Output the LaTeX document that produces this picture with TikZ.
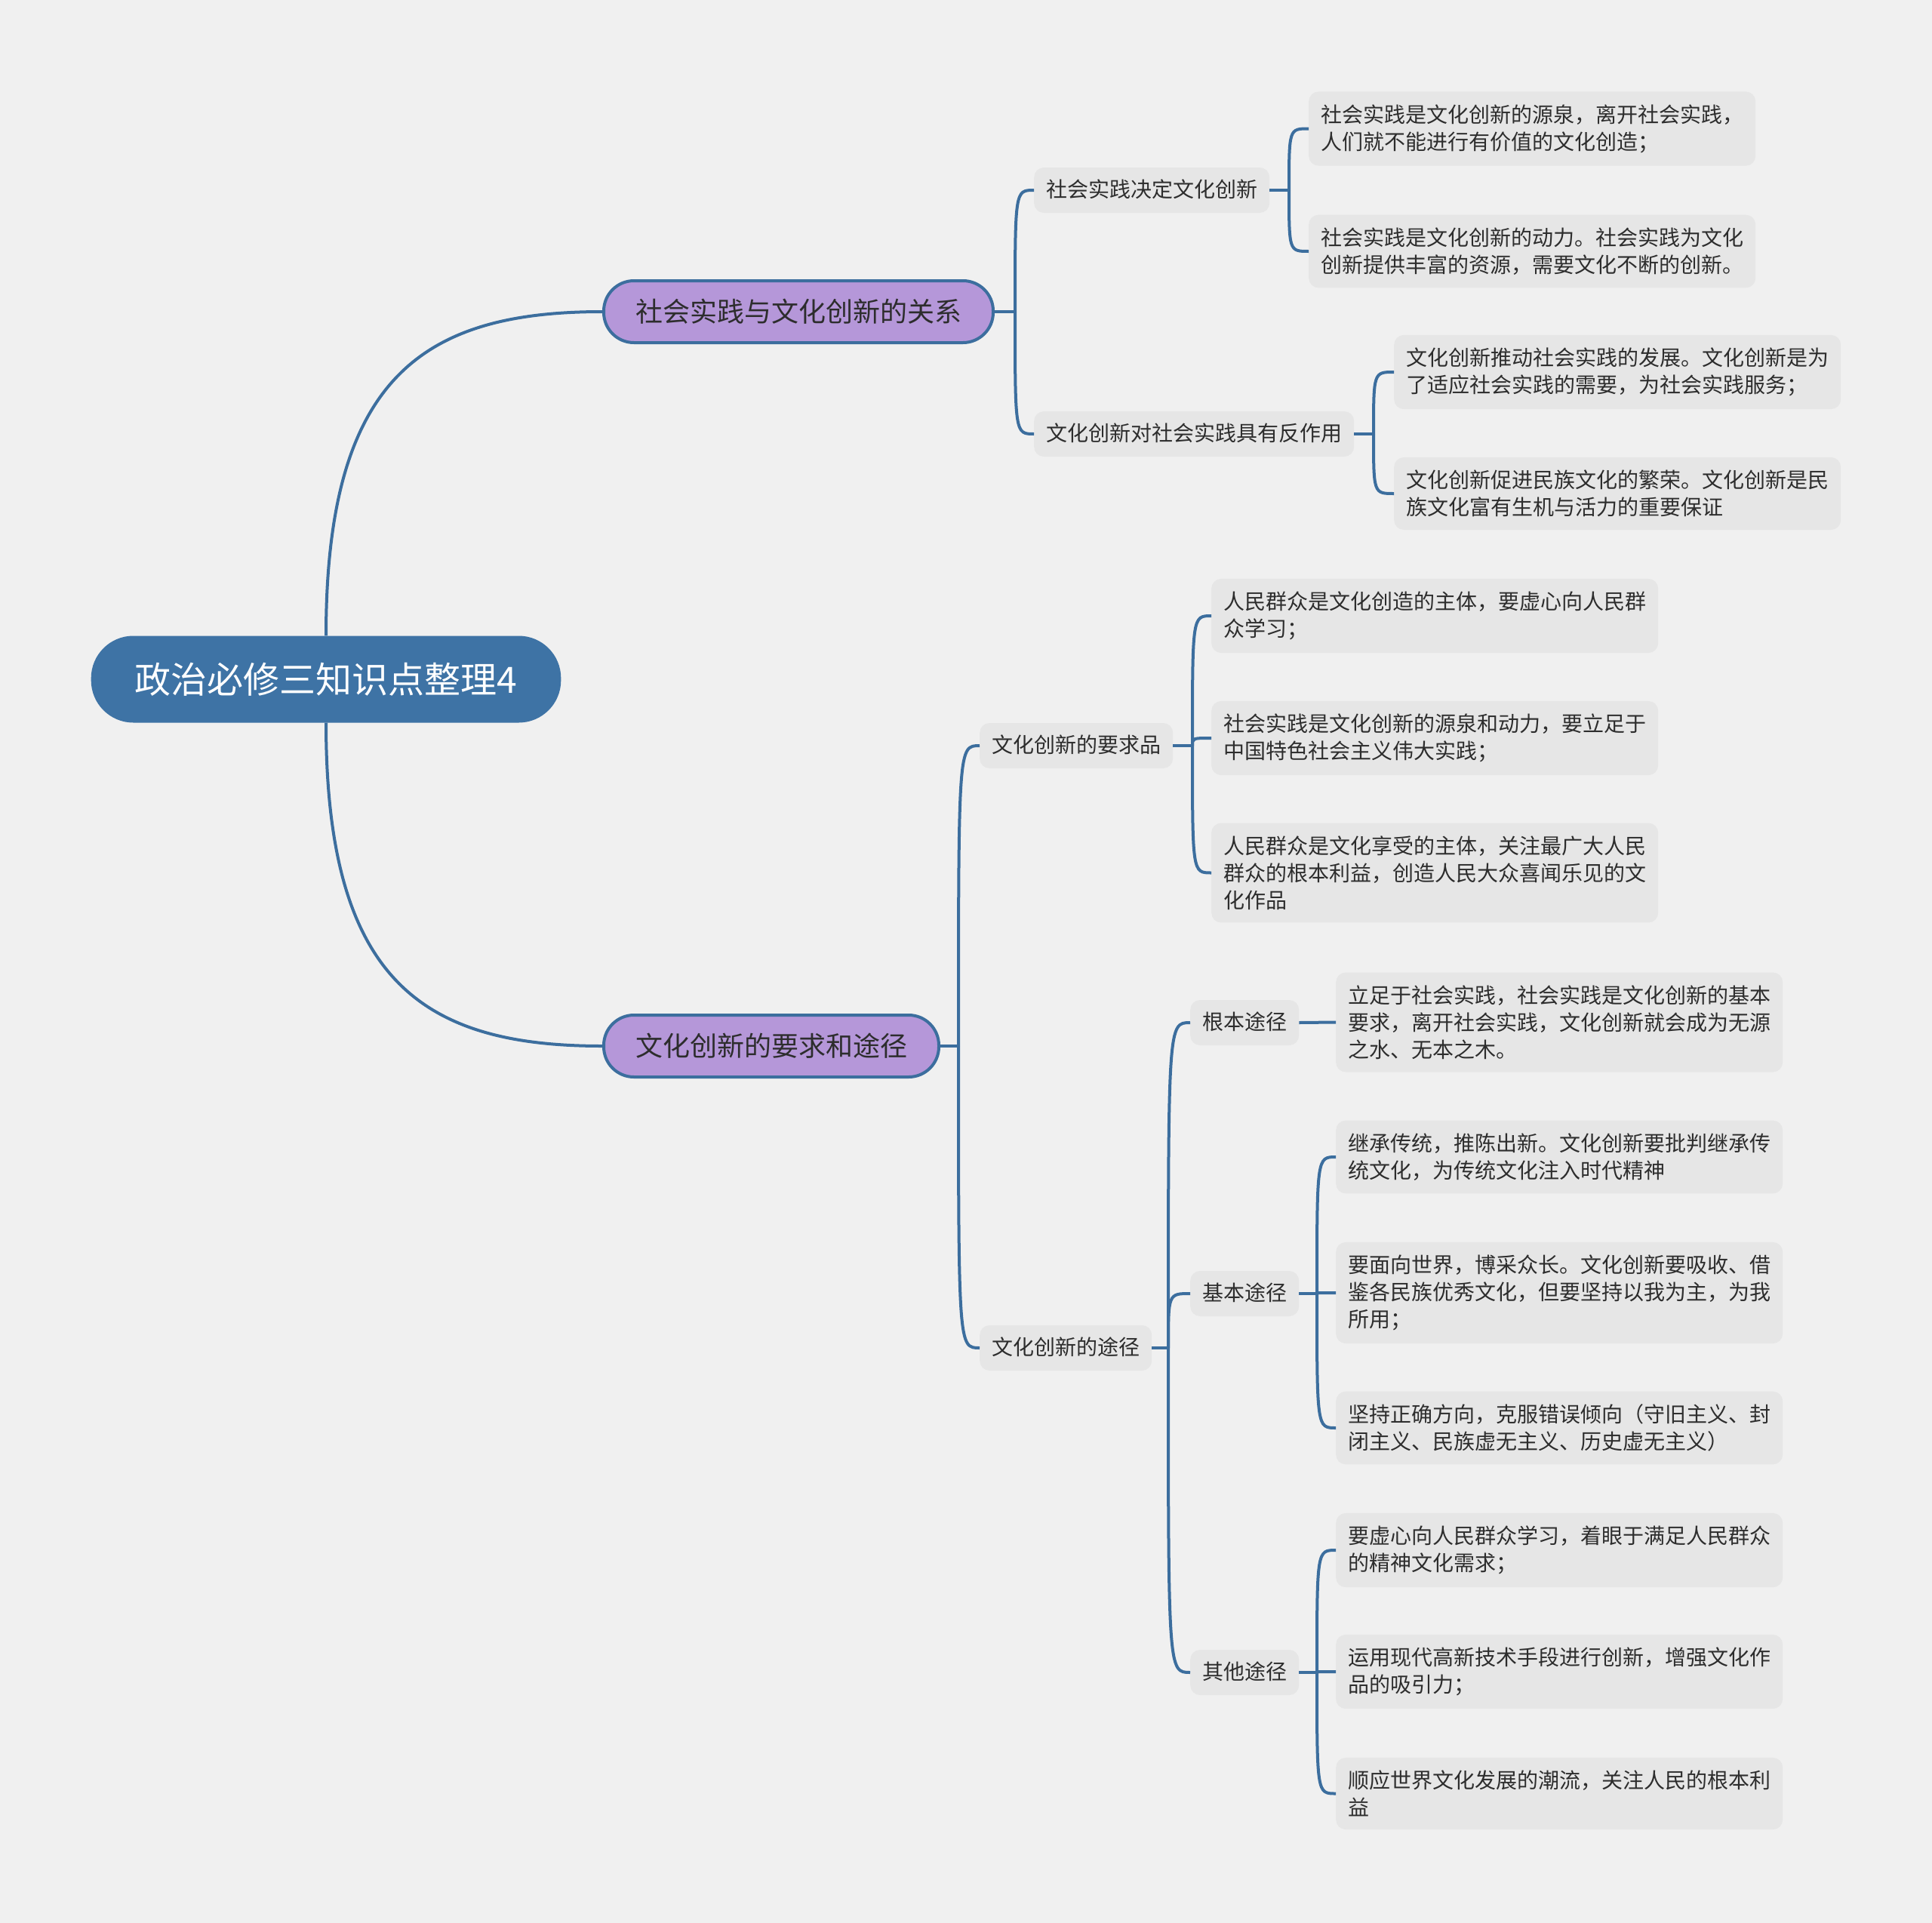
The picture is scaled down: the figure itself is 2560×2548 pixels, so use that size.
\documentclass[tikz,border=0pt]{standalone}
\usepackage{fontspec}
\setmainfont{Noto Sans CJK SC}
\definecolor{bgc}{RGB}{240,240,240}
\definecolor{leafc}{RGB}{230,230,230}
\definecolor{linec}{RGB}{60,110,158}
\definecolor{rootc}{RGB}{62,115,165}
\definecolor{purp}{RGB}{181,151,217}
\definecolor{txt}{RGB}{45,45,45}
\tikzset{
  conn/.style={draw=linec, line width=4pt},
  leaf/.style={fill=leafc, rounded corners=13pt, text width=560pt, align=left, inner xsep=16pt, inner ysep=17pt, font=\fontsize{28}{36}\selectfont, text=txt, anchor=west},
  subnode/.style={fill=leafc, rounded corners=13pt, inner xsep=16pt, inner ysep=15pt, text height=24pt, text depth=6pt, font=\fontsize{28}{34}\selectfont, text=txt, anchor=west},
  branch/.style={fill=purp, draw=linec, line width=4pt, rounded corners=40pt, inner xsep=42pt, inner ysep=0pt, minimum height=82pt, font=\fontsize{36}{42}\selectfont, text=txt, anchor=west},
  rootnode/.style={fill=rootc, rounded corners=56pt, minimum height=115pt, inner xsep=58pt, inner ysep=0pt, font=\fontsize{48}{56}\selectfont, text=white}
}
\begin{document}
\begin{tikzpicture}[x=1pt, y=-1pt]
\fill[bgc] (0,0) rectangle (2560,2548);
\useasboundingbox (0,0) rectangle (2560,2548);

% root and branches
\node[rootnode] (root) at (432,900) {政治必修三知识点整理4};
\node[branch] (b1) at (798,413) {社会实践与文化创新的关系};
\node[branch] (b2) at (798,1386) {文化创新的要求和途径};

% level 2
\node[subnode] (a1) at (1370,252) {社会实践决定文化创新};
\node[subnode] (a2) at (1370,575) {文化创新对社会实践具有反作用};
\node[subnode] (bq) at (1298,988) {文化创新的要求品};
\node[subnode] (bt) at (1298,1786) {文化创新的途径};

% level 3
\node[subnode] (c1) at (1577,1355) {根本途径};
\node[subnode] (c2) at (1577,1714) {基本途径};
\node[subnode] (c3) at (1577,2216) {其他途径};

% leaves
\node[leaf] (a1a) at (1734,170.5) {社会实践是文化创新的源泉，离开社会实践，\\人们就不能进行有价值的文化创造；};
\node[leaf] (a1b) at (1734,333) {社会实践是文化创新的动力。社会实践为文化\\创新提供丰富的资源，需要文化不断的创新。};
\node[leaf] (a2a) at (1847,493) {文化创新推动社会实践的发展。文化创新是为\\了适应社会实践的需要，为社会实践服务；};
\node[leaf] (a2b) at (1847,654) {文化创新促进民族文化的繁荣。文化创新是民\\族文化富有生机与活力的重要保证};
\node[leaf] (q1) at (1605,816) {人民群众是文化创造的主体，要虚心向人民群\\众学习；};
\node[leaf] (q2) at (1605,978) {社会实践是文化创新的源泉和动力，要立足于\\中国特色社会主义伟大实践；};
\node[leaf] (q3) at (1605,1156.5) {人民群众是文化享受的主体，关注最广大人民\\群众的根本利益，创造人民大众喜闻乐见的文\\化作品};
\node[leaf] (c1a) at (1770,1354.5) {立足于社会实践，社会实践是文化创新的基本\\要求，离开社会实践，文化创新就会成为无源\\之水、无本之木。};
\node[leaf] (c2a) at (1770,1533) {继承传统，推陈出新。文化创新要批判继承传\\统文化，为传统文化注入时代精神};
\node[leaf] (c2b) at (1770,1713) {要面向世界，博采众长。文化创新要吸收、借\\鉴各民族优秀文化，但要坚持以我为主，为我\\所用；};
\node[leaf] (c2c) at (1770,1892) {坚持正确方向，克服错误倾向（守旧主义、封\\闭主义、民族虚无主义、历史虚无主义）};
\node[leaf] (c3a) at (1770,2054) {要虚心向人民群众学习，着眼于满足人民群众\\的精神文化需求；};
\node[leaf] (c3b) at (1770,2215) {运用现代高新技术手段进行创新，增强文化作\\品的吸引力；};
\node[leaf] (c3c) at (1770,2376.5) {顺应世界文化发展的潮流，关注人民的根本利\\益};

% junction points
\coordinate (jb1) at (1345,413);
\coordinate (jb2) at (1270,1386);
\coordinate (ja1) at (1708,252);
\coordinate (ja2) at (1820,575);
\coordinate (jq) at (1580,988);
\coordinate (jt) at (1548,1786);
\coordinate (jc2) at (1745,1714);
\coordinate (jc3) at (1745,2216);

% root connectors
\draw[conn] (root.north) .. controls +(0,-342) and +(-238,0) .. (b1.west);
\draw[conn] (root.south) .. controls +(0,342) and +(-238,0) .. (b2.west);

% branch 1
\draw[conn] (b1.east) -- (jb1);
\foreach \c in {a1,a2} \draw[conn] (jb1) .. controls (jb1 |- \c.west) .. (\c.west);
\draw[conn] (a1.east) -- (ja1);
\foreach \c in {a1a,a1b} \draw[conn] (ja1) .. controls (ja1 |- \c.west) .. (\c.west);
\draw[conn] (a2.east) -- (ja2);
\foreach \c in {a2a,a2b} \draw[conn] (ja2) .. controls (ja2 |- \c.west) .. (\c.west);

% branch 2
\draw[conn] (b2.east) -- (jb2);
\foreach \c in {bq,bt} \draw[conn] (jb2) .. controls (jb2 |- \c.west) .. (\c.west);
\draw[conn] (bq.east) -- (jq);
\foreach \c in {q1,q2,q3} \draw[conn] (jq) .. controls (jq |- \c.west) .. (\c.west);
\draw[conn] (bt.east) -- (jt);
\foreach \c in {c1,c2,c3} \draw[conn] (jt) .. controls (jt |- \c.west) .. (\c.west);
\draw[conn] (c1.east) -- (c1a.west);
\draw[conn] (c2.east) -- (jc2);
\foreach \c in {c2a,c2b,c2c} \draw[conn] (jc2) .. controls (jc2 |- \c.west) .. (\c.west);
\draw[conn] (c3.east) -- (jc3);
\foreach \c in {c3a,c3b,c3c} \draw[conn] (jc3) .. controls (jc3 |- \c.west) .. (\c.west);
\end{tikzpicture}
\end{document}
